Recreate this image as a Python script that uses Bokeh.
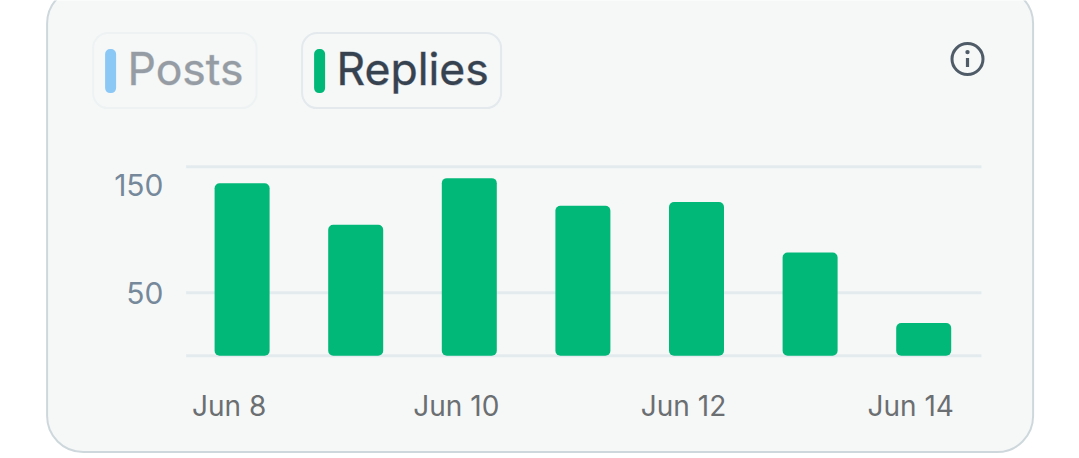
from bokeh.plotting import figure
from bokeh.models import Range1d
from bokeh.core.properties import value
from bokeh.embed import file_html
from bokeh.resources import INLINE

W, H = 1079, 458
days = [0, 1, 2, 3, 4, 5, 6]
replies = [137, 104, 141, 119, 122, 82, 26]
y_ticks = [150, 50]
x_ticks = [0, 2, 4, 6]
x_labels = ["Jun 8", "Jun 10", "Jun 12", "Jun 14"]
series = ["Posts", "Replies"]

px_per_day = 113.6
px_per_unit = 1.26
x0_px, y0_px = 241.6, 355.3
card_fill = "#f6f8f8"

p = figure(width=W, height=H, output_backend="svg", toolbar_location=None,
           x_range=Range1d(-x0_px / px_per_day, (W - x0_px) / px_per_day),
           y_range=Range1d((y0_px - H) / px_per_unit, y0_px / px_per_unit),
           x_axis_type=None, y_axis_type=None, min_border=0,
           outline_line_color=None, background_fill_color="white",
           border_fill_color="white")
p.grid.visible = False
p.extra_x_ranges["px"] = Range1d(0, W)
p.extra_y_ranges["px"] = Range1d(H, 0)
px = dict(x_range_name="px", y_range_name="px")

# card
p.quad(left=[46.6], right=[1032.6], top=[-13], bottom=[451.6], fill_color=card_fill,
       line_color="#ced8dc", line_width=2, border_radius=36, **px)

# legend pills
p.quad(left=[92.6], right=[256], top=[32.6], bottom=[107.6], fill_color=card_fill,
       line_color="#eef2f3", line_width=2, border_radius=15, **px)
p.quad(left=[301.6], right=[500.6], top=[32.6], bottom=[107.6], fill_color=card_fill,
       line_color="#e3e9ec", line_width=2, border_radius=15, **px)
p.quad(left=[104.6], right=[115.6], top=[48.6], bottom=[92.6], fill_color="#8cc8f6",
       line_color=None, border_radius=5, **px)
p.quad(left=[313.6], right=[324.6], top=[48.6], bottom=[92.6], fill_color="#00b878",
       line_color=None, border_radius=5, **px)
p.text(x=[127], y=[68.8], text=[series[0]], text_font=value("Inter"), text_font_size="44.5px",
       text_color="#959ca3", text_outline_color="#959ca366", text_baseline="middle", text_align="left", **px)
p.text(x=[336], y=[68.8], text=[series[1]], text_font=value("Inter"), text_font_size="44.5px",
       text_color="#374250", text_outline_color="#37425066", text_baseline="middle", text_align="left", **px)

# info icon
p.circle(x=[967], y=[58.6], radius=15.5, fill_color=None, line_color="#4f5c68", line_width=3, **px)
p.circle(x=[967], y=[51.6], radius=2.2, fill_color="#4f5c68", line_color=None, **px)
p.segment(x0=[967], x1=[967], y0=[57.6], y1=[66.6], line_color="#4f5c68", line_width=3.2, **px)

# gridlines
grid_vals = [0] + y_ticks
p.segment(x0=[185.6] * 3, x1=[981] * 3, y0=grid_vals, y1=grid_vals, line_color="#e4ebee",
          line_width=3, x_range_name="px")

# bars
p.vbar(x=days, top=replies, bottom=0, width=55 / px_per_day, fill_color="#02b878",
       line_color=None, border_radius=5)

# tick labels
p.text(x=[163] * 2, y=y_ticks, text=[str(v) for v in y_ticks], text_font=value("Inter"),
       text_font_size="30px", text_color="#76899b", text_align="right", text_baseline="middle",
       y_offset=[18, 0], x_range_name="px")
p.text(x=x_ticks, y=[405.2] * 4, text=x_labels, text_font=value("Inter"),
       text_font_size="28px", text_color="#6b6f72", text_align="center", text_baseline="middle",
       x_offset=-13, y_range_name="px")

open("out.html", "w").write(file_html(p, INLINE))
